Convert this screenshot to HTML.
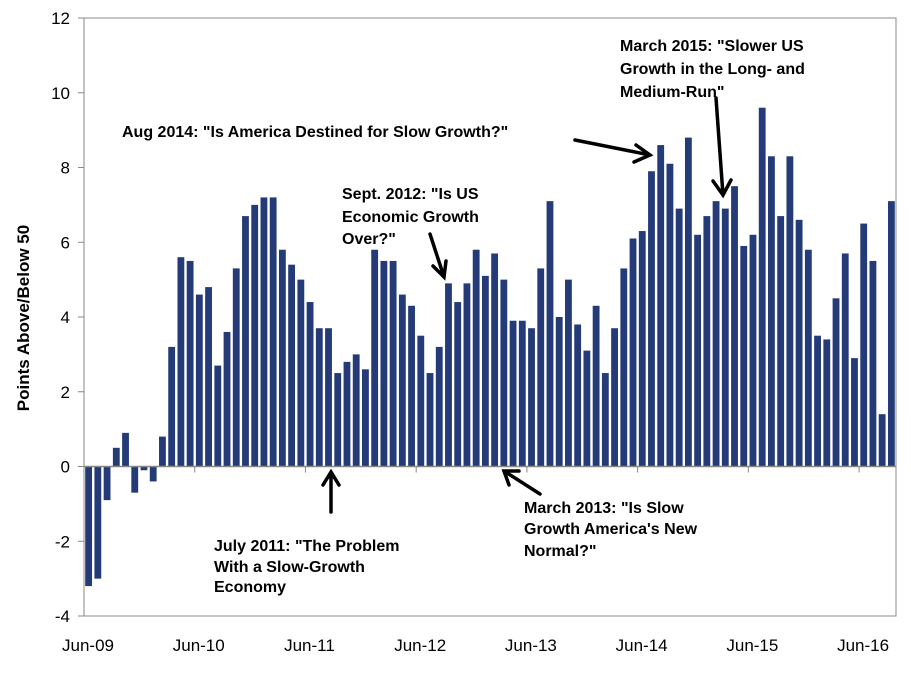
<!DOCTYPE html>
<html><head><meta charset="utf-8"><style>
body{margin:0;background:#fff;}
svg text{font-family:"Liberation Sans",Arial,sans-serif;}
</style></head><body>
<svg width="911" height="685" xmlns="http://www.w3.org/2000/svg">
<g id="plot"></g>
<g font-weight="bold" font-size="16" fill="#000">
<text x="122" y="137">Aug 2014: "Is America Destined for Slow Growth?"</text>
<text><tspan x="620" y="51">March 2015: "Slower US</tspan><tspan x="620" y="74">Growth in the Long- and</tspan><tspan x="620" y="97">Medium-Run"</tspan></text>
<text><tspan x="342" y="199">Sept. 2012: "Is US</tspan><tspan x="342" y="222">Economic Growth</tspan><tspan x="342" y="244">Over?"</tspan></text>
<text><tspan x="214" y="551">July 2011: "The Problem</tspan><tspan x="214" y="572">With a Slow-Growth</tspan><tspan x="214" y="592">Economy</tspan></text>
<text><tspan x="524" y="513">March 2013: "Is Slow</tspan><tspan x="524" y="534">Growth America's New</tspan><tspan x="524" y="556">Normal?"</tspan></text>
</g>
<g stroke="#000" stroke-width="3.5" fill="none" stroke-linecap="round">
<path d="M575,140 L650,155 M636,145 L650,155 L634,162"/>
<path d="M716,98 L723,195 M713,181 L723,195 L731,180"/>
<path d="M430,234 L444,277 M433,266 L444,277 L446,261"/>
<path d="M331,512 L331,472 M323,485 L331,472 L339,485"/>
<path d="M540,494 L504,471 M509,485 L504,471 L519,471"/>
</g>
<text transform="translate(29,318) rotate(-90)" text-anchor="middle" font-size="17" font-weight="bold">Points Above/Below 50</text>
</svg>
<script>
const values=[-3.2,-3.0,-0.9,0.5,0.9,-0.7,-0.1,-0.4,0.8,3.2,5.6,5.5,4.6,4.8,2.7,3.6,5.3,6.7,7.0,7.2,7.2,5.8,5.4,5.0,4.4,3.7,3.7,2.5,2.8,3.0,2.6,5.8,5.5,5.5,4.6,4.3,3.5,2.5,3.2,4.9,4.4,4.9,5.8,5.1,5.7,5.0,3.9,3.9,3.7,5.3,7.1,4.0,5.0,3.8,3.1,4.3,2.5,3.7,5.3,6.1,6.3,7.9,8.6,8.1,6.9,8.8,6.2,6.7,7.1,6.9,7.5,5.9,6.2,9.6,8.3,6.7,8.3,6.6,5.8,3.5,3.4,4.5,5.7,2.9,6.5,5.5,1.4,7.1];
const yTicks=[-4,-2,0,2,4,6,8,10,12];
const xLabels=["Jun-09","Jun-10","Jun-11","Jun-12","Jun-13","Jun-14","Jun-15","Jun-16"];
const NS="http://www.w3.org/2000/svg";
const L=84,R=896,T=18,B=616,yMin=-4,yMax=12;
const n=values.length,step=(R-L)/n;
const y=v=>B-(v-yMin)/(yMax-yMin)*(B-T);
const x=i=>L+i*step;
const g=document.getElementById('plot');
function mk(t,a){const e=document.createElementNS(NS,t);for(const k in a)e.setAttribute(k,a[k]);g.appendChild(e);return e;}
// frame
const fr=mk('rect',{x:L,y:T,width:R-L,height:B-T,fill:'none',stroke:'#888','stroke-width':1});


yTicks.forEach(t=>{
 const l=mk('line',{x1:L-6,x2:L,y1:y(t),y2:y(t),stroke:'#888'});
 
 
 const tx=mk('text',{x:L-14,y:y(t)+6,'text-anchor':'end','font-size':17});
 tx.textContent=t;
 
 
});
values.forEach((v,i)=>{
 const y0=y(0),y1=y(v);
 const r=mk('rect',{x:x(i)+1.2,y:Math.min(y0,y1),width:step-2.4,height:Math.abs(y1-y0),fill:'#243b78'});
 
 
});
const ax=mk('line',{x1:L,x2:R,y1:y(0),y2:y(0),stroke:'#888','stroke-width':1.5});


xLabels.forEach((s,k)=>{
 const px=x(k*12);
 const tk=mk('line',{x1:px,x2:px,y1:y(0),y2:y(0)+6,stroke:'#888'});
 
 
 const tx=mk('text',{x:px+4,y:651,'text-anchor':'middle','font-size':17});
 tx.textContent=s;
 
 
});
</script>
</body></html>
